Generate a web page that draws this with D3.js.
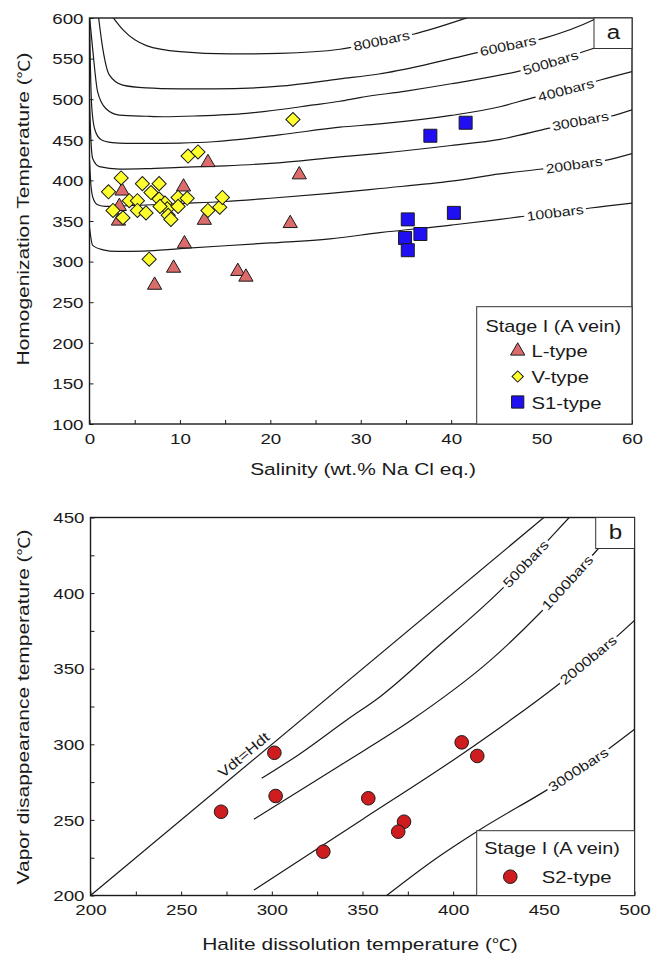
<!DOCTYPE html>
<html>
<head>
<meta charset="utf-8">
<script src="https://cdn.jsdelivr.net/npm/d3@7"></script>
<style>
  body { margin: 0; background: #fff; }
  svg { display: block; }
</style>
</head>
<body>
<svg id="chart" width="659" height="958"></svg>
<script>
// ---------- Panel a: homogenization temperature vs salinity ----------
const lTypeSalinity = [3.6, 3.3, 3.2, 10.4, 13.1, 23.2, 12.7, 22.2, 10.5, 9.3, 7.2, 16.4, 17.3];
const lTypeTh       = [387, 368, 350, 392, 422, 407, 351, 347, 322, 292, 271, 288, 281];

const vTypeSalinity = [2.1, 3.5, 5.85, 7.7, 6.8, 4.4, 5.3, 2.6, 3.7, 5.3, 6.25, 7.7, 8.35, 8.6, 7.8, 8.7, 9.0, 9.8, 10.8, 9.8, 13.1, 14.4, 14.7, 6.6, 10.9, 12.0, 22.5];
const vTypeTh       = [386, 403, 396, 396, 385, 375, 375, 363, 354, 363, 360, 377, 372, 365, 368, 357, 352, 379, 378, 368, 363, 367, 379, 303, 430, 435, 475];

const s1TypeSalinity = [41.6, 37.7, 40.3, 35.2, 36.6, 34.9, 35.2];
const s1TypeTh       = [471, 455, 360, 352, 334, 329, 314];

// Isobars, [salinity, temperature]
const isobar100 = [[0,342],[0.35,320],[1.5,314.5],[3,312.5],[6,313],[10,316],[20,323],[26.6,328],[32.1,335.6],[40,345],[45.4,352],[47.5,355],[51.5,360],[55.4,366],[60,372]];
const isobar200 = [[0,425],[0.15,395],[0.4,378],[0.9,370],[1.8,368],[3.5,368.5],[6.25,369.7],[10,371.5],[15,374],[20,378],[26.6,384],[32.1,390],[40,399],[45.4,408],[49.8,413.7],[53,418],[57.2,425],[60,433]];
const isobar300 = [[0,500],[0.1,465],[0.35,427],[1.1,417],[3.3,414],[6.25,414.5],[10,416],[15,418],[20,421],[27.7,429],[32.1,433.4],[40,443],[45.4,450.5],[50.7,464],[54.3,473],[57.6,479],[60,487]];
const isobar400 = [[0,600],[0.1,540],[0.25,490],[0.6,462],[1.3,450],[2.5,446.5],[4,445.5],[6.25,445.5],[10,446],[13.7,447.6],[21,456],[27.7,465.5],[32.1,469.5],[40,480],[45.4,490.7],[49.1,502],[53,512],[56.5,523.6],[60,534]];
const isobar500 = [[0,602],[0.35,562],[0.9,509],[1.8,488.6],[3.3,480.5],[6.25,479],[8.2,478.4],[12,479.5],[17.4,482.6],[24.8,492.9],[27.7,497.5],[29.9,502],[35,510],[40,519],[47.3,534],[51,545],[54.6,558.5],[60,578]];
const isobar600 = [[1.0,601],[1.46,563],[2.19,530],[3.67,517.4],[6.25,514],[10,512.8],[13.7,512.6],[21,516],[27.7,525],[32,531],[37,542],[42.5,556.5],[46,565],[50.2,575],[55.7,597.5],[56.5,602]];
const isobar800 = [[2.57,601],[3.74,585],[6.3,566],[10,558.5],[15.5,555.7],[21,556.5],[27.7,561.5],[29,564],[32.3,572],[35.8,580],[41.7,600],[42.5,603]];

const isobarsA = [isobar100, isobar200, isobar300, isobar400, isobar500, isobar600, isobar800];
const isobarNamesA = ["100bars", "200bars", "300bars", "400bars", "500bars", "600bars", "800bars"];
const isobarLabelSalinity = [51.5, 53.6, 54.3, 52.7, 51.0, 46.3, 32.3];

const xTicksA = [0, 5, 10, 15, 20, 25, 30, 35, 40, 45, 50, 55, 60];
const yTicksA = [100, 150, 200, 250, 300, 350, 400, 450, 500, 550, 600];

// ---------- Panel b: vapor disappearance vs halite dissolution ----------
const s2Hdt = [272, 301.4, 302.1, 353.2, 328.4, 372.9, 369.7, 404.7, 413.3];
const s2Vdt = [255.4, 294.4, 265.8, 264.3, 229, 248.8, 242.2, 301.3, 292.3];

const lineVdtHdt = [[200,200],[450,450]];
const isobar500b  = [[294.4,277.5],[314.6,293],[341.3,316.1],[359.7,331.5],[390,363],[427.8,403.8],[451.6,434],[464.4,450.5],[468,455]];
const isobar1000b = [[290.1,250.4],[337.6,286],[377,316],[420,355],[448,387],[479,428],[500,457]];
const isobar2000b = [[290.1,203.6],[349.5,250],[405.6,294.1],[458.9,340.4],[490.2,371.2],[500.3,382.2]];
const isobar3000b = [[363.3,200],[390,224],[414,243],[456,273],[480,292],[500,310]];

const isobarsB = [isobar500b, isobar1000b, isobar2000b, isobar3000b];
const isobarNamesB = ["500bars", "1000bars", "2000bars", "3000bars"];
const isobarLabelHdt = [440, 463, 474.5, 469];

const xTicksB = [200, 225, 250, 275, 300, 325, 350, 375, 400, 425, 450, 475, 500];
const yTicksB = [200, 225, 250, 275, 300, 325, 350, 375, 400, 425, 450];

// ---------- shared helpers ----------
const svg = d3.select("#chart");
const FONT = "'Liberation Sans', Arial, 'Noto Sans CJK SC', sans-serif";
const CJK = "'Noto Sans CJK SC', sans-serif";
const SX = 1.27;      // horizontal stretch of the lettering
const INK = "#1a1a1a";

function wideText(parent, x, y, str, size, opts = {}) {
  const g = parent.append("g")
    .attr("transform", `translate(${x},${y}) rotate(${opts.rot || 0}) scale(${opts.sx || SX},1)`);
  const t = g.append("text")
    .attr("font-family", FONT)
    .attr("font-size", size)
    .attr("fill", INK)
    .attr("text-anchor", opts.anchor || "start");
  // the degree-Celsius sign is set in the CJK face
  const parts = str.split("℃");
  parts.forEach((p, i) => {
    if (p) t.append("tspan").text(p);
    if (i < parts.length - 1) t.append("tspan").attr("font-family", CJK).attr("font-size", size * 0.9).text("℃");
  });
  if (opts.dy != null) t.attr("y", opts.dy);
  return { g, t };
}

function interpAt(pts, xv) {
  for (let i = 0; i < pts.length - 1; i++) {
    if (xv <= pts[i + 1][0]) {
      const f = (xv - pts[i][0]) / (pts[i + 1][0] - pts[i][0]);
      return pts[i][1] + f * (pts[i + 1][1] - pts[i][1]);
    }
  }
  return pts[pts.length - 1][1];
}

// label sitting on a curve, with a white gap behind it
function curveLabel(parent, pts, xv, str, xs, ys, size, step) {
  const px = xs(xv), py = ys(interpAt(pts, xv));
  const ax = xs(xv - step), ay = ys(interpAt(pts, xv - step));
  const bx = xs(xv + step), by = ys(interpAt(pts, xv + step));
  const ang = Math.atan2(by - ay, bx - ax) * 180 / Math.PI;
  const { g, t } = wideText(parent, px, py, str, size, { rot: ang, anchor: "middle", sx: 1.22 });
  t.attr("dy", "0.35em");
  const bb = t.node().getBBox();
  g.insert("rect", "text")
    .attr("x", bb.x - 2).attr("y", bb.y + 2)
    .attr("width", bb.width + 4).attr("height", bb.height - 4)
    .attr("fill", "#fff");
}

function styleAxisText(axisG, isLeft) {
  axisG.select(".domain").remove();
  axisG.selectAll(".tick line").attr("stroke", INK).attr("stroke-width", 1);
  axisG.selectAll(".tick text")
    .attr("font-family", FONT)
    .attr("font-size", 15)
    .attr("fill", INK)
    .attr("x", 0).attr("y", 0)
    .attr("dy", isLeft ? "0.35em" : "0.71em")
    .attr("transform", isLeft ? "translate(-6,0) scale(1.25,1)" : "translate(0,9) scale(1.25,1)");
}

// ================= Panel a =================
const xA = d3.scaleLinear().domain([0, 60]).range([89.5, 632]);
const yA = d3.scaleLinear().domain([100, 600]).range([424, 18]);

svg.append("clipPath").attr("id", "clipA")
  .append("rect").attr("x", 89.5).attr("y", 18).attr("width", 632 - 89.5).attr("height", 424 - 18);

const gA = svg.append("g");
const plotA = gA.append("g").attr("clip-path", "url(#clipA)");

const lineA = d3.line().x(d => xA(d[0])).y(d => yA(d[1])).curve(d3.curveMonotoneX);
plotA.selectAll("path.isobar").data(isobarsA).join("path")
  .attr("class", "isobar")
  .attr("d", lineA)
  .attr("fill", "none").attr("stroke", INK).attr("stroke-width", 1.2);

isobarsA.forEach((pts, i) => {
  curveLabel(plotA, pts, isobarLabelSalinity[i], isobarNamesA[i], xA, yA, 13, 1.5);
});

const triPath = d3.symbol().type(d3.symbolTriangle).size(88)();
const sqPath = d3.symbol().type(d3.symbolSquare).size(100)();
const boxPath = d3.symbol().type(d3.symbolSquare).size(169)();

// L-type
plotA.selectAll("path.ltype").data(d3.range(lTypeSalinity.length)).join("path")
  .attr("class", "ltype")
  .attr("d", triPath)
  .attr("transform", i => `translate(${xA(lTypeSalinity[i])},${yA(lTypeTh[i])})`)
  .attr("fill", "#dc6b6b").attr("stroke", INK).attr("stroke-width", 1);

// V-type
plotA.selectAll("path.vtype").data(d3.range(vTypeSalinity.length)).join("path")
  .attr("class", "vtype")
  .attr("d", sqPath)
  .attr("transform", i => `translate(${xA(vTypeSalinity[i])},${yA(vTypeTh[i])}) rotate(45)`)
  .attr("fill", "#ffff2e").attr("stroke", INK).attr("stroke-width", 1);

// S1-type
plotA.selectAll("path.s1type").data(d3.range(s1TypeSalinity.length)).join("path")
  .attr("class", "s1type")
  .attr("d", boxPath)
  .attr("transform", i => `translate(${xA(s1TypeSalinity[i])},${yA(s1TypeTh[i])})`)
  .attr("fill", "#1f0ff2").attr("stroke", INK).attr("stroke-width", 1);

// axes
const axAx = gA.append("g").attr("transform", "translate(0,424)")
  .call(d3.axisBottom(xA).tickValues(xTicksA).tickSizeInner(-4).tickSizeOuter(0)
    .tickFormat(d => d % 10 === 0 ? d : ""));
styleAxisText(axAx, false);
const ayAx = gA.append("g").attr("transform", "translate(89.5,0)")
  .call(d3.axisLeft(yA).tickValues(yTicksA).tickSizeInner(-4).tickSizeOuter(0));
styleAxisText(ayAx, true);

gA.append("rect").attr("x", 89.5).attr("y", 18).attr("width", 632 - 89.5).attr("height", 424 - 18)
  .attr("fill", "none").attr("stroke", INK).attr("stroke-width", 1.4);

// panel tag
gA.append("rect").attr("x", 594).attr("y", 18).attr("width", 38).attr("height", 30.5)
  .attr("fill", "#fff").attr("stroke", "#333").attr("stroke-width", 1);
wideText(gA, 613.5, 39, "a", 21, { anchor: "middle", sx: 1.15 });

// legend a
gA.append("rect").attr("x", 476.7).attr("y", 306.7).attr("width", 632 - 476.7).attr("height", 424 - 306.7)
  .attr("fill", "#fff").attr("stroke", "#333").attr("stroke-width", 1);
wideText(gA, 485.5, 331.5, "Stage I (A vein)", 16, { sx: 1.24 });
gA.append("path").attr("d", triPath).attr("transform", "translate(517.7,351)")
  .attr("fill", "#dc6b6b").attr("stroke", INK).attr("stroke-width", 1);
wideText(gA, 531.5, 357, "L-type", 16);
gA.append("path").attr("d", d3.symbol().type(d3.symbolSquare).size(64)()).attr("transform", "translate(517.7,376.5) rotate(45)")
  .attr("fill", "#ffff2e").attr("stroke", INK).attr("stroke-width", 1);
wideText(gA, 531.5, 383, "V-type", 16);
gA.append("path").attr("d", d3.symbol().type(d3.symbolSquare).size(150)()).attr("transform", "translate(517.7,402)")
  .attr("fill", "#1f0ff2").attr("stroke", INK).attr("stroke-width", 1);
wideText(gA, 531.5, 408.5, "S1-type", 16);

// axis titles a
wideText(svg, 363, 475, "Salinity (wt.% Na Cl eq.)", 16.5, { anchor: "middle" });
wideText(svg, 29, 209, "Homogenization Temperature (℃)", 16.5, { anchor: "middle", rot: -90 });

// ================= Panel b =================
const xB = d3.scaleLinear().domain([200, 500]).range([90.5, 634.5]);
const yB = d3.scaleLinear().domain([200, 450]).range([895.5, 517.5]);

svg.append("clipPath").attr("id", "clipB")
  .append("rect").attr("x", 90.5).attr("y", 517.5).attr("width", 634.5 - 90.5).attr("height", 895.5 - 517.5);

const gB = svg.append("g");
const plotB = gB.append("g").attr("clip-path", "url(#clipB)");

const lineB = d3.line().x(d => xB(d[0])).y(d => yB(d[1])).curve(d3.curveMonotoneX);
plotB.append("path").datum(lineVdtHdt).attr("d", lineB)
  .attr("fill", "none").attr("stroke", INK).attr("stroke-width", 1.2);
plotB.selectAll("path.isobarB").data(isobarsB).join("path")
  .attr("class", "isobarB")
  .attr("d", lineB)
  .attr("fill", "none").attr("stroke", INK).attr("stroke-width", 1.2);

isobarsB.forEach((pts, i) => {
  curveLabel(plotB, pts, isobarLabelHdt[i], isobarNamesB[i], xB, yB, 13.5, 4);
});

// Vdt = Hdt label, above its line
{
  const h = 288;
  const ang = Math.atan2(yB(450) - yB(200), xB(450) - xB(200)) * 180 / Math.PI;
  wideText(plotB, xB(h), yB(h), "Vdt=Hdt", 14, { anchor: "middle", rot: ang, dy: -5, sx: 1.22 });
}

// S2-type
plotB.selectAll("circle.s2").data(d3.range(s2Hdt.length)).join("circle")
  .attr("class", "s2")
  .attr("cx", i => xB(s2Hdt[i])).attr("cy", i => yB(s2Vdt[i])).attr("r", 6.8)
  .attr("fill", "#cf1c1e").attr("stroke", INK).attr("stroke-width", 1);

const bxAx = gB.append("g").attr("transform", "translate(0,895.5)")
  .call(d3.axisBottom(xB).tickValues(xTicksB).tickSizeInner(-4).tickSizeOuter(0)
    .tickFormat(d => d % 50 === 0 ? d : ""));
styleAxisText(bxAx, false);
const byAx = gB.append("g").attr("transform", "translate(90.5,0)")
  .call(d3.axisLeft(yB).tickValues(yTicksB).tickSizeInner(-4).tickSizeOuter(0)
    .tickFormat(d => d % 50 === 0 ? d : ""));
styleAxisText(byAx, true);

gB.append("rect").attr("x", 90.5).attr("y", 517.5).attr("width", 634.5 - 90.5).attr("height", 895.5 - 517.5)
  .attr("fill", "none").attr("stroke", INK).attr("stroke-width", 1.4);

gB.append("rect").attr("x", 595.7).attr("y", 517.5).attr("width", 38.8).attr("height", 31)
  .attr("fill", "#fff").attr("stroke", "#333").attr("stroke-width", 1);
wideText(gB, 615.5, 539, "b", 21, { anchor: "middle", sx: 1.15 });

// legend b
gB.append("rect").attr("x", 476.7).attr("y", 830.7).attr("width", 634.5 - 476.7).attr("height", 895.5 - 830.7)
  .attr("fill", "#fff").attr("stroke", "#333").attr("stroke-width", 1);
wideText(gB, 484.3, 854, "Stage I (A vein)", 16, { sx: 1.24 });
gB.append("circle").attr("cx", 510.3).attr("cy", 876.7).attr("r", 6.8)
  .attr("fill", "#cf1c1e").attr("stroke", INK).attr("stroke-width", 1);
wideText(gB, 541.7, 883.3, "S2-type", 16);

// axis titles b
wideText(svg, 360, 950, "Halite dissolution temperature (℃)", 16.5, { anchor: "middle" });
wideText(svg, 29, 707, "Vapor disappearance temperature (℃)", 16.5, { anchor: "middle", rot: -90 });
</script>
</body>
</html>
